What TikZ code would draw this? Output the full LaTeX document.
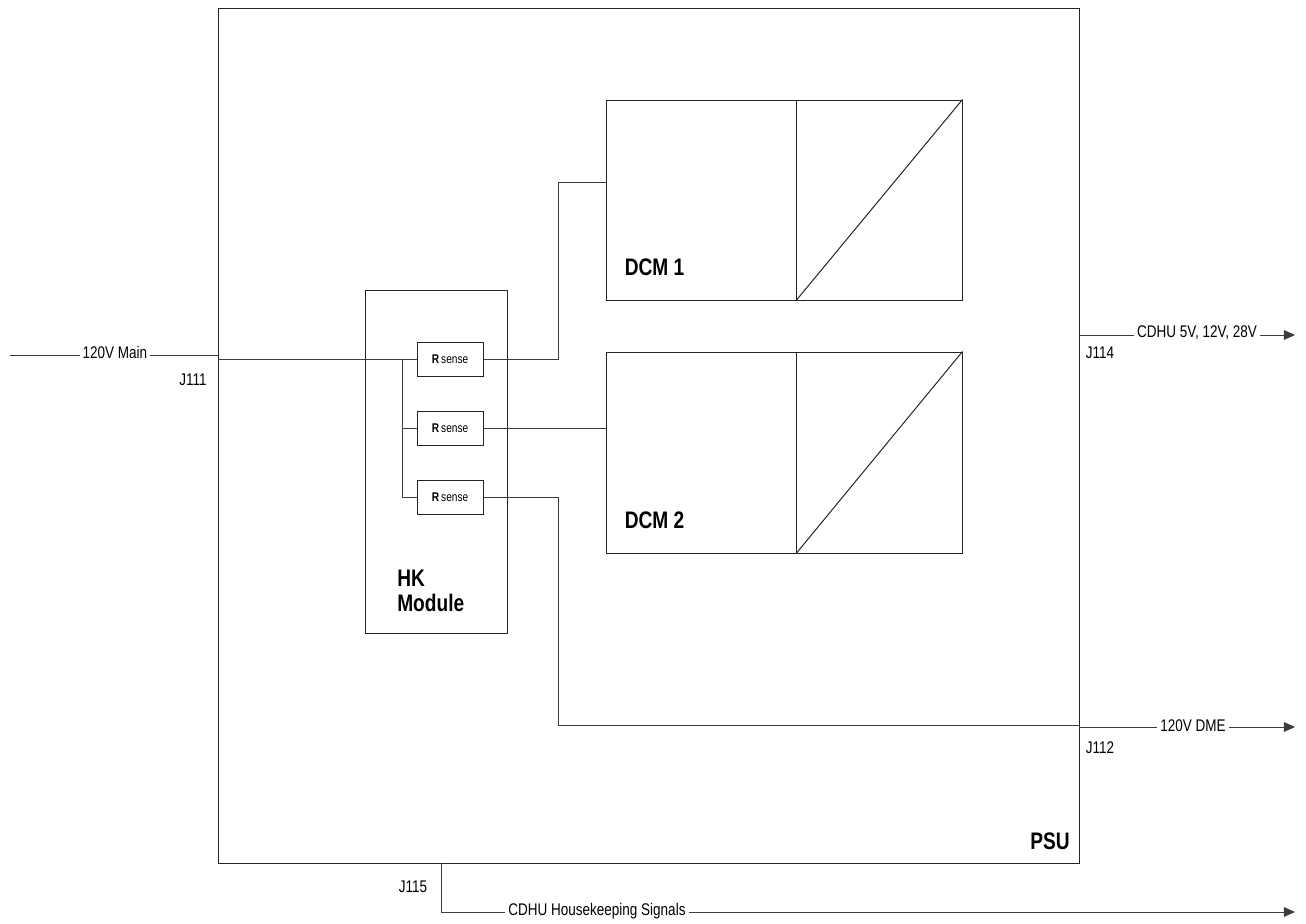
\documentclass[tikz,border=0pt]{standalone}
\usepackage{fontspec}
\setmainfont{Liberation Sans}[FakeStretch=0.8]
\usetikzlibrary{arrows.meta, positioning, fit, calc}
\definecolor{boxline}{RGB}{35,35,35}
\definecolor{wireline}{RGB}{60,60,60}

\begin{document}
\begin{tikzpicture}[
    x=0.025cm, y=-0.025cm,
    unitbox/.style={draw=boxline, line width=0.7pt, inner sep=0pt},
    sensebox/.style={draw=boxline, line width=0.7pt, minimum width=1.65cm,
                     minimum height=0.85cm, inner sep=0pt,
                     font=\fontsize{9}{10}\selectfont},
    signal/.style={-, line width=0.7pt, color=wireline},
    outarrow/.style={signal, -{Triangle[length=8pt,width=7pt]}},
    portlabel/.style={font=\fontsize{12}{14}\selectfont, inner sep=2pt},
    unitlabel/.style={font=\fontsize{17}{17.7}\selectfont\bfseries,
                      align=left, inner sep=0pt},
]
\useasboundingbox (0,0) rectangle (1306,924);

% ======================================================
% Enclosure and converter modules
% ======================================================
\node[unitbox, fit={(218,8) (1079,863)}] (psu) {};
\node[unitlabel, anchor=east] at (1070,841) {PSU};

\node[unitbox, fit={(606,100) (962,300)}] (dcm1) {};
\node[unitbox, fit={(606,352) (962,553)}] (dcm2) {};
\foreach \d/\n in {dcm1/1, dcm2/2} {
  \coordinate (\d top) at ($(\d.north west)!0.534!(\d.north east)$);
  \coordinate (\d bot) at ($(\d.south west)!0.534!(\d.south east)$);
  \draw[unitbox] (\d top) -- (\d bot);
  \draw[unitbox] (\d bot) -- (\d.north east);
  \node[unitlabel, anchor=west] at ($(\d.south west)+(19,-33)$) {DCM \n};
}

% ======================================================
% HK module with three sense resistors on a common bus
% ======================================================
\node[unitbox, fit={(365,290) (507,633)}] (hk) {};
\node[unitlabel, anchor=west] at (397,591) {HK\\Module};

\foreach \y [count=\i] in {359,428,497} {
  \node[sensebox] (rs\i) at (450,\y) {\textbf{R}\,sense};
  \coordinate (tap\i) at (402,\y);
  \draw[signal] (tap\i) -- (rs\i.west);
}
\draw[signal] (tap1) -- (tap3);

% sense outputs
\coordinate (d1in) at (606,182);
\coordinate (j112in) at (1079,725);
\draw[signal] (rs1.east) -- ++(75,0) |- (d1in);
\draw[signal] (rs2.east) -- (dcm2.west |- rs2.east);
\draw[signal] (rs3.east) -- ++(75,0) |- (j112in);

% ======================================================
% Connectors J111 (in), J114, J112, J115 (out)
% ======================================================
\coordinate (mainsrc) at (10,355);
\coordinate (j111) at (218,355);
\node[portlabel] (mainlbl) at (115,352) {120V Main};
\draw[signal] (mainsrc) -- (mainsrc -| mainlbl.west);
\draw[signal] (j111 -| mainlbl.east) -- (j111);
\draw[signal] (psu.west |- rs1) -- (rs1.west);
\node[portlabel] at (193,380) {J111};

\coordinate (j114) at (1079,335);
\coordinate (cdhusink) at (1295,335);
\node[portlabel] (cdhulbl) at (1197,333) {CDHU 5V, 12V, 28V};
\draw[signal] (j114) -- (j114 -| cdhulbl.west);
\draw[outarrow] (cdhusink -| cdhulbl.east) -- (cdhusink);
\node[portlabel] at (1100,353) {J114};

\coordinate (j112) at (1079,727);
\coordinate (dmesink) at (1295,727);
\node[portlabel] (dmelbl) at (1193,726) {120V DME};
\draw[signal] (j112) -- (j112 -| dmelbl.west);
\draw[outarrow] (dmesink -| dmelbl.east) -- (dmesink);
\node[portlabel] at (1100,748) {J112};

\coordinate (j115) at (441,863);
\coordinate (hksink) at (1295,912);
\node[portlabel] (hklbl) at (597,911) {CDHU Housekeeping Signals};
\draw[signal] (j115) |- (hksink -| hklbl.west);
\draw[outarrow] (hksink -| hklbl.east) -- (hksink);
\node[portlabel] at (413,887) {J115};

\end{tikzpicture}
\end{document}
